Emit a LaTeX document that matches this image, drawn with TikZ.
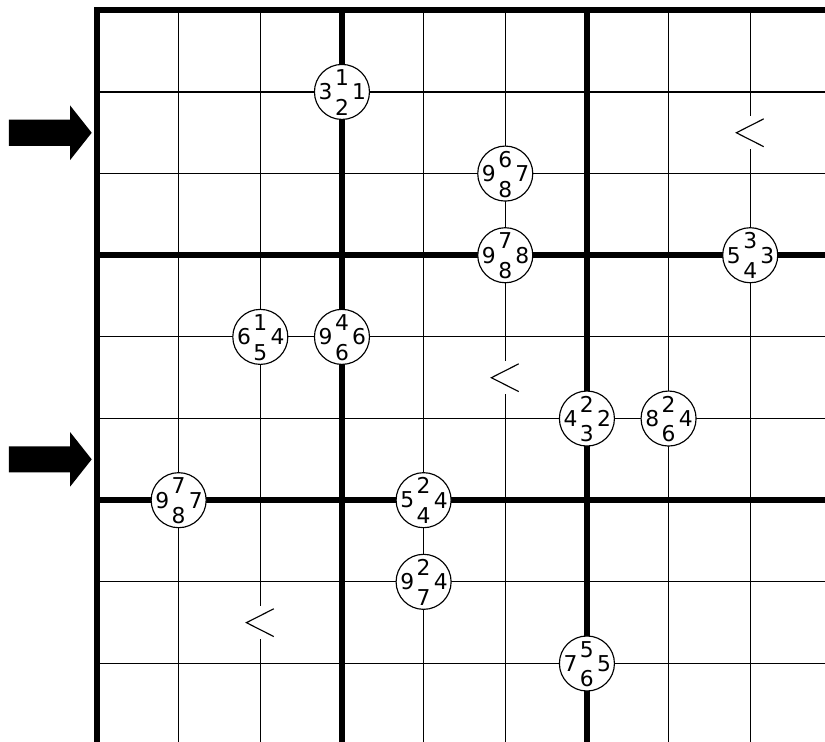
\documentclass[tikz,border=0pt]{standalone}
\usepackage{fontspec}
\setmainfont{DejaVu Sans}
\tikzset{
	grid_thin/.style = {line width=0.4pt},
	grid_thick/.style = {line width=2.1pt, line cap=rect},
	clue_c/.style = {circle, draw=black, fill=white, line width=0.4pt,
		minimum size=0.674cm, inner sep=0pt},
	clue_d/.style = {inner sep=0pt, font=\fontsize{7.6}{8}\selectfont},
	ineq_n/.style = {fill=white, inner sep=0pt, minimum width=0.36cm,
		minimum height=0.4cm},
	ineq_l/.style = {line width=0.4pt},
	row_arr/.style = {fill=black}
}
% circle on a grid point: name, position, left, top, bottom, right
\newcommand{\cluenode}[6]{%
	\node [clue_c] (#1) at (#2) {};
	\node [clue_d] (#1l) at ([xshift=-0.2cm]#1.center) {#3};
	\node [clue_d] (#1t) at ([yshift=0.175cm]#1.center) {#4};
	\node [clue_d] (#1b) at ([yshift=-0.19cm]#1.center) {#5};
	\node [clue_d] (#1r) at ([xshift=0.21cm]#1.center) {#6};
}

\begin{document}
\begin{tikzpicture}
\useasboundingbox (-1.188,0.126) rectangle (8.916,-8.961);
% grid
\foreach \i in {1,2,4,5,7,8} {
	\draw [grid_thin] (\i,0) -- (\i,-9.2);
	\draw [grid_thin] (0,-\i) -- (9.2,-\i);
}
\foreach \k in {0,3,6,9} {
	\draw [grid_thick] (\k,0) -- (\k,-9.2);
	\draw [grid_thick] (0,-\k) -- (9.2,-\k);
}
% row arrows
\foreach \r in {1.5,5.5}
	\fill [row_arr, shift={(0,-\r)}] (-1.078,0.16) -- (-0.33,0.16) -- (-0.33,0.335)
		-- (-0.065,0) -- (-0.33,-0.335) -- (-0.33,-0.16) -- (-1.078,-0.16) -- cycle;
% inequality marks
\foreach \x/\y/\n in {8/1.5/q1, 5/4.5/q2, 2/7.5/q3} {
	\node [ineq_n] (\n) at (\x,-\y) {};
	\draw [ineq_l] ([xshift=0.165cm,yshift=0.17cm]\n.center) -- ([xshift=-0.17cm]\n.center)
		-- ([xshift=0.165cm,yshift=-0.17cm]\n.center);
}
% circles
\cluenode{c1}{3,-1}{3}{1}{2}{1}
\cluenode{c2}{5,-2}{9}{6}{8}{7}
\cluenode{c3}{5,-3}{9}{7}{8}{8}
\cluenode{c4}{8,-3}{5}{3}{4}{3}
\cluenode{c5}{2,-4}{6}{1}{5}{4}
\cluenode{c6}{3,-4}{9}{4}{6}{6}
\cluenode{c7}{6,-5}{4}{2}{3}{2}
\cluenode{c8}{7,-5}{8}{2}{6}{4}
\cluenode{c9}{1,-6}{9}{7}{8}{7}
\cluenode{c10}{4,-6}{5}{2}{4}{4}
\cluenode{c11}{4,-7}{9}{2}{7}{4}
\cluenode{c12}{6,-8}{7}{5}{6}{5}
\end{tikzpicture}
\end{document}
